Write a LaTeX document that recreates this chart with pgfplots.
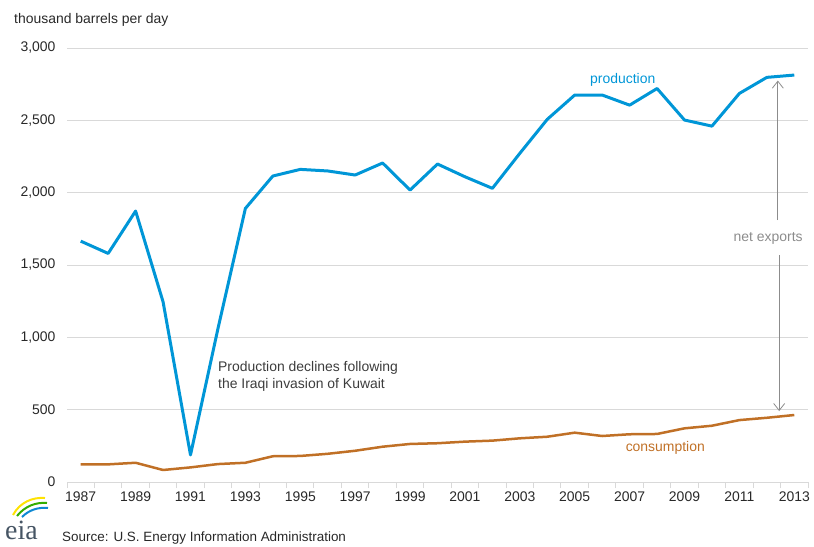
\documentclass[border=0pt]{standalone}
\usepackage{fontspec}
\setmainfont{Liberation Sans}
\newfontfamily\logofont{Liberation Serif}
\usepackage{pgfplots}
\pgfplotsset{compat=1.18}
\usetikzlibrary{arrows.meta}
\definecolor{prodblue}{RGB}{0,150,215}
\definecolor{consbrown}{RGB}{192,112,38}
\definecolor{txt}{RGB}{40,40,40}
\definecolor{anntext}{RGB}{60,60,60}
\definecolor{gridgray}{RGB}{217,217,217}
\definecolor{arrgray}{RGB}{140,140,140}
\definecolor{logogray}{RGB}{70,85,100}
\pgfplotstableread{
year prod cons
1987 1665 122
1988 1580 122
1989 1873 133
1990 1246 83
1991 187 101
1992 1060 124
1993 1891 133
1994 2115 178
1995 2161 180
1996 2150 195
1997 2122 216
1998 2205 244
1999 2018 263
2000 2198 268
2001 2110 279
2002 2030 286
2003 2272 302
2004 2507 313
2005 2675 341
2006 2675 318
2007 2605 330
2008 2720 332
2009 2502 371
2010 2460 389
2011 2686 428
2012 2797 444
2013 2813 463
}\datatable
\begin{document}
\begin{tikzpicture}
\useasboundingbox (0bp,0bp) rectangle (814bp,-547bp);
\node[anchor=west, font=\fontsize{14}{16}\selectfont, text=txt, inner sep=0] at (14bp,-20bp) {thousand barrels per day};
\begin{axis}[
  at={(67bp,-482bp)}, anchor=south west,
  scale only axis, width=741bp, height=434bp,
  xmin=1986.5, xmax=2013.5, ymin=0, ymax=3000,
  axis x line*=bottom, axis y line*=left,
  y axis line style={draw=none},
  x axis line style={draw=gridgray, line width=1bp},
  ytick={0,500,...,3000},
  ymajorgrids, grid style={draw=gridgray, line width=1bp},
  ytick style={draw=none},
  yticklabel style={font=\fontsize{14}{16}\selectfont, text=txt, /pgf/number format/1000 sep={,}, /pgf/number format/assume math mode=true, xshift=-2bp},
  xtick={1986.5,1987.5,...,2013.5},
  xticklabels={},
  xtick style={draw=gridgray, line width=1bp},
  tick align=outside, major tick length=6bp,
  extra x ticks={1987,1989,...,2013},
  extra x tick labels={1987,1989,1991,1993,1995,1997,1999,2001,2003,2005,2007,2009,2011,2013},
  extra x tick style={major tick length=0pt, xmajorgrids=false, tick style={draw=none}},
  xticklabel style={font=\fontsize{14}{16}\selectfont, text=txt, yshift=-6bp},
  clip=false,
]
\addplot[prodblue, line width=3bp, line join=round] table[x=year, y=prod] {\datatable};
\addplot[consbrown, line width=2.5bp, line join=round] table[x=year, y=cons] {\datatable};
\node[text=prodblue, font=\fontsize{14}{16}\selectfont] at (axis cs:2006.75,2780) {production};
\node[text=consbrown, font=\fontsize{14}{16}\selectfont] at (axis cs:2008.3,235) {consumption};
\node[anchor=west, align=left, text=anntext, font=\fontsize{14}{18}\selectfont, inner sep=0] at (axis cs:1992.0,730) {Production declines following\\the Iraqi invasion of Kuwait};
\draw[arrgray, line width=0.8bp, -{Straight Barb[length=7bp,width=11bp]}] (axis cs:2012.4,1810) -- (axis cs:2012.4,2775);
\draw[arrgray, line width=0.8bp, -{Straight Barb[length=7bp,width=11bp]}] (axis cs:2012.45,1569) -- (axis cs:2012.45,490);
\node[text=arrgray, font=\fontsize{14}{16}\selectfont] at (axis cs:2012.05,1686) {net exports};
\end{axis}
% EIA logo
\draw[yellow!85!orange, line width=2bp] (13bp,-515bp) .. controls (20bp,-502bp) and (33bp,-497bp) .. (45bp,-498bp);
\draw[green!60!black!80!yellow, line width=2bp] (17bp,-516bp) .. controls (25bp,-506bp) and (36bp,-502bp) .. (47bp,-503bp);
\draw[cyan!70!blue, line width=2bp] (22bp,-517bp) .. controls (29bp,-510bp) and (38bp,-507bp) .. (48bp,-508bp);
\node[anchor=base west, font=\logofont\fontsize{28}{28}\selectfont, text=logogray, inner sep=0] at (5bp,-539bp) {eia};
\node[anchor=west, font=\fontsize{13.5}{16}\selectfont, text=txt, inner sep=0] at (62bp,-538bp) {Source: U.S. Energy Information Administration};
\end{tikzpicture}
\end{document}
